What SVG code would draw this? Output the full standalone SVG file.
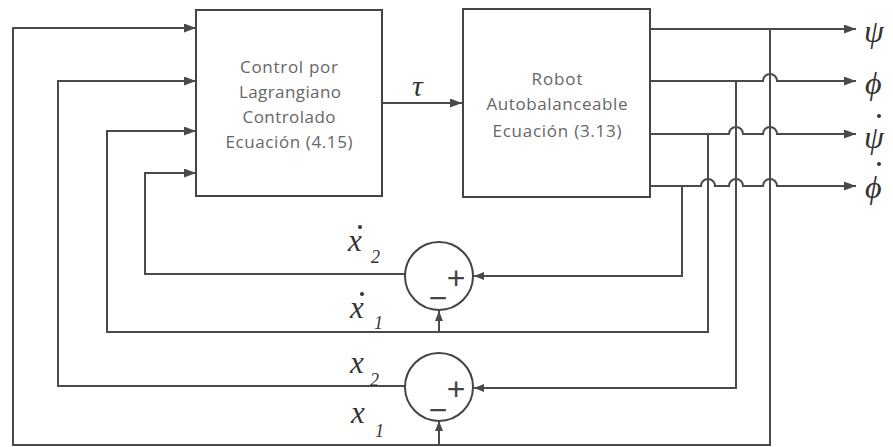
<svg xmlns="http://www.w3.org/2000/svg" width="893" height="447" viewBox="0 0 893 447">
<style>
.box{fill:#fff;stroke:#444;stroke-width:2}
.ln{fill:none;stroke:#4a4a4a;stroke-width:2}
.bt{font-family:"Open Sans","Liberation Sans",sans-serif;font-size:17px;fill:#666;text-anchor:middle}
.m{font-family:"Liberation Serif",serif;font-style:italic;fill:#333}
.sg{font-family:"Liberation Sans",sans-serif;font-size:32px;fill:#444;text-anchor:middle}
.dot{fill:#333}
</style>
<defs>
<marker id="ah" markerUnits="userSpaceOnUse" markerWidth="12" markerHeight="9" refX="12" refY="4.5" orient="auto"><path d="M0,0 L12,4.5 L0,9 z" fill="#4a4a4a"/></marker>
<marker id="as" markerUnits="userSpaceOnUse" markerWidth="10" markerHeight="8" refX="10" refY="4" orient="auto"><path d="M0,0 L10,4 L0,8 z" fill="#4a4a4a"/></marker>
</defs>
<rect width="893" height="447" fill="#fff"/>
<g id="connectors">
<path class="ln" d="M382,103 H462" marker-end="url(#ah)"/>
<path class="ln" d="M650,29 H856" marker-end="url(#ah)"/>
<path class="ln" d="M650,81 H763 a7,7 0 0 1 14,0 H856" marker-end="url(#ah)"/>
<path class="ln" d="M650,134 H729 a7,7 0 0 1 14,0 H763 a7,7 0 0 1 14,0 H856" marker-end="url(#ah)"/>
<path class="ln" d="M650,186 H701 a7,7 0 0 1 14,0 H729 a7,7 0 0 1 14,0 H763 a7,7 0 0 1 14,0 H856" marker-end="url(#ah)"/>
<path class="ln" d="M770,29 V445 H13 V28 H196" marker-end="url(#ah)"/>
<path class="ln" d="M439,445 V421" marker-end="url(#as)"/>
<path class="ln" d="M736,81 V388 H474" marker-end="url(#as)"/>
<path class="ln" d="M405,386 H58 V81 H196" marker-end="url(#ah)"/>
<path class="ln" d="M708,134 V332 H107 V131 H196" marker-end="url(#ah)"/>
<path class="ln" d="M439,332 V311" marker-end="url(#as)"/>
<path class="ln" d="M682,186 V276 H474" marker-end="url(#as)"/>
<path class="ln" d="M405,274 H145 V173 H196" marker-end="url(#ah)"/>
</g>
<g id="control">
<rect class="box" x="196" y="10" width="186" height="186"/>
<text class="bt" x="289" y="73" textLength="98">Control por</text>
<text class="bt" x="290" y="98" textLength="102">Lagrangiano</text>
<text class="bt" x="289" y="123" textLength="93">Controlado</text>
<text class="bt" x="289" y="148" textLength="127">Ecuación (4.15)</text>
</g>
<g id="robot">
<rect class="box" x="463" y="9" width="187" height="188"/>
<text class="bt" x="557" y="85" textLength="51">Robot</text>
<text class="bt" x="557" y="110" textLength="141">Autobalanceable</text>
<text class="bt" x="557" y="137" textLength="129">Ecuación (3.13)</text>
</g>
<g id="tau"><text class="m" x="412" y="96" font-size="30">τ</text></g>
<g id="sum1">
<circle cx="439" cy="276" r="34" fill="#fff" stroke="#444" stroke-width="2"/>
<text class="sg" x="456" y="289">+</text>
<text class="sg" x="438" y="309">−</text>
</g>
<g id="sum2">
<circle cx="439" cy="387" r="34" fill="#fff" stroke="#444" stroke-width="2"/>
<text class="sg" x="456" y="400">+</text>
<text class="sg" x="438" y="421">−</text>
</g>
<g id="labels">
<text class="m" x="348" y="251" font-size="31">x</text>
<circle class="dot" cx="360" cy="227" r="2"/>
<text class="m" x="371" y="263" font-size="18">2</text>
<text class="m" x="350" y="318" font-size="31">x</text>
<circle class="dot" cx="362" cy="294" r="2"/>
<text class="m" x="374" y="329" font-size="18">1</text>
<text class="m" x="350" y="373" font-size="31">x</text>
<text class="m" x="370" y="386" font-size="18">2</text>
<text class="m" x="351" y="423" font-size="31">x</text>
<text class="m" x="375" y="437" font-size="18">1</text>
<text class="m" x="864" y="42" font-size="32">ψ</text>
<text class="m" x="865" y="94" font-size="32">ϕ</text>
<text class="m" x="864" y="148" font-size="32">ψ</text>
<circle class="dot" cx="879" cy="116" r="2"/>
<text class="m" x="865" y="198" font-size="32">ϕ</text>
<circle class="dot" cx="879" cy="164" r="2"/>
</g>
</svg>
